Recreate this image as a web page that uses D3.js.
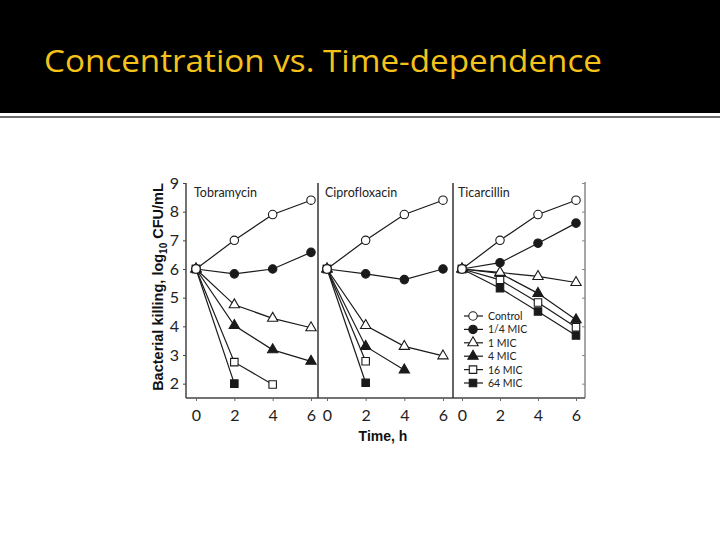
<!DOCTYPE html>
<html><head><meta charset="utf-8">
<script src="https://cdn.jsdelivr.net/npm/d3@7"></script>
<style>html,body{margin:0;padding:0;background:#fff;}svg{display:block;}text{font-variant-ligatures:none;font-feature-settings:"liga" 0, "clig" 0;}</style>
</head><body>
<svg id="c" width="720" height="540"></svg>
<script>
const title = "Concentration vs. Time-dependence";
const drugs = ["Tobramycin", "Ciprofloxacin", "Ticarcillin"];
const seriesNames = ["Control", "1/4 MIC", "1 MIC", "4 MIC", "16 MIC", "64 MIC"];
const times = [0, 2, 4, 6];
const yTicks = [2, 3, 4, 5, 6, 7, 8, 9];
const xTicks = [0, 2, 4, 6];
// values per drug, per series (null = no point)
const tobramycin = [
  [6, 7.0, 7.9, 8.4],
  [6, 5.83, 6.0, 6.58],
  [6, 4.75, 4.28, 3.95],
  [6, 4.03, 3.18, 2.78],
  [6, 2.75, 1.97, null],
  [6, 2.0, null, null]
];
const ciprofloxacin = [
  [6, 7.0, 7.9, 8.4],
  [6, 5.83, 5.63, 6.0],
  [6, 4.03, 3.3, 2.97],
  [6, 3.3, 2.48, null],
  [6, 2.78, null, null],
  [6, 2.03, null, null]
];
const ticarcillin = [
  [6, 7.0, 7.9, 8.4],
  [6, 6.22, 6.9, 7.6],
  [6, 5.88, 5.74, 5.53],
  [6, 5.85, 5.15, 4.23],
  [6, 5.62, 4.83, 3.97],
  [6, 5.33, 4.52, 3.68]
];
const panelData = [tobramycin, ciprofloxacin, ticarcillin];

const svg = d3.select("#c");
// header
svg.append("rect").attr("x",0).attr("y",0).attr("width",720).attr("height",113).attr("fill","#000");
svg.append("line").attr("x1",0).attr("x2",720).attr("y1",117).attr("y2",117).attr("stroke","#6e6e6e").attr("stroke-width",2);
svg.append("text").attr("x",44).attr("y",72).attr("fill","#F5C21B")
  .attr("font-family","'Open Sans', Lato, sans-serif").attr("font-size",31)
  .attr("style","font-variant-ligatures:none;font-feature-settings:'liga' 0")
  .attr("textLength",558).attr("lengthAdjust","spacingAndGlyphs").text(title);

const y = d3.scaleLinear().domain([1.5, 9]).range([398, 183]);
const panelRanges = [[196, 311], [327, 443], [462, 576]];
const ink = "#1a1a1a";
const axisCol = "#444";
const tickFont = "Lato, 'Open Sans', sans-serif";

// frame: left axis, bottom axis, dividers, right axis
const g = svg.append("g");
const leftAxis = d3.axisLeft(y).tickValues(yTicks).tickSize(3).tickPadding(4).tickFormat(d3.format("d"));
const la = g.append("g").attr("transform","translate(186,0)").call(leftAxis);
la.select(".domain").attr("stroke",axisCol).attr("stroke-width",1.5).attr("d","M0,398V183");
la.selectAll(".tick line").attr("stroke",axisCol);
la.selectAll(".tick text").attr("font-family",tickFont).attr("font-size",16).attr("fill","#222");

const rightAxis = d3.axisLeft(y).tickValues(yTicks).tickSize(3).tickFormat("");
const ra = g.append("g").attr("transform","translate(585,0)").call(rightAxis);
ra.select(".domain").attr("stroke","#888").attr("stroke-width",1.5).attr("d","M0,398V182");
ra.selectAll(".tick line").attr("stroke","#888");

g.append("line").attr("x1",186).attr("x2",585).attr("y1",398).attr("y2",398).attr("stroke",axisCol).attr("stroke-width",1.5);
[318, 453].forEach(xd => {
  g.append("line").attr("x1",xd).attr("x2",xd).attr("y1",183).attr("y2",398).attr("stroke","#333").attr("stroke-width",1.5);
});

// symbols
const circleSym = d3.symbol().type(d3.symbolCircle).size(56);
const triSym = d3.symbol().type(d3.symbolTriangle).size(46);
const sqSym = d3.symbol().type(d3.symbolSquare).size(56);
const markerDefs = [
  {sym: circleSym, fill: "#fff"},
  {sym: circleSym, fill: ink},
  {sym: triSym, fill: "#fff"},
  {sym: triSym, fill: ink},
  {sym: sqSym, fill: "#fff"},
  {sym: sqSym, fill: ink}
];

panelData.forEach((series, pi) => {
  const x = d3.scaleLinear().domain([0, 6]).range(panelRanges[pi]);
  const xa = d3.axisBottom(x).tickValues(xTicks).tickSize(3).tickPadding(9).tickFormat(d3.format("d"));
  const xg = svg.append("g").attr("transform","translate(0,398)").call(xa);
  xg.select(".domain").remove();
  xg.selectAll(".tick line").attr("stroke","#666");
  xg.selectAll(".tick text").attr("font-family",tickFont).attr("font-size",16).attr("fill","#222");

  svg.append("text").attr("x", panelRanges[pi][0] - 2 + (pi===2? -2:0)).attr("y", 197)
    .attr("font-family",tickFont).attr("font-size",12.5).attr("fill","#222").text(drugs[pi]);

  const line = d3.line().defined(d => d.v !== null).x(d => x(d.t)).y(d => y(d.v));
  series.forEach((vals, si) => {
    const pts = times.map((t, i) => ({t, v: vals[i]}));
    svg.append("path").datum(pts).attr("d", line).attr("fill","none").attr("stroke",ink).attr("stroke-width",1.2);
  });
  series.slice().reverse().forEach((vals, ri) => {
    const si = series.length - 1 - ri;
    const pts = times.map((t, i) => ({t, v: vals[i]})).filter(d => d.v !== null);
    svg.selectAll(null).data(pts).enter().append("path")
      .attr("transform", d => `translate(${x(d.t)},${y(d.v)})`)
      .attr("d", markerDefs[si].sym())
      .attr("fill", markerDefs[si].fill).attr("stroke", ink).attr("stroke-width",1.1);
  });
});

// legend
const legY0 = 316, legStep = 13.4;
seriesNames.forEach((name, si) => {
  const ly = legY0 + si * legStep;
  svg.append("line").attr("x1",464).attr("x2",483).attr("y1",ly).attr("y2",ly).attr("stroke",ink).attr("stroke-width",1.2);
  svg.append("path").attr("transform",`translate(473,${ly})`).attr("d", markerDefs[si].sym())
    .attr("fill", markerDefs[si].fill).attr("stroke", ink).attr("stroke-width",1.1);
  svg.append("text").attr("x",488).attr("y",ly+4).attr("font-family",tickFont).attr("font-size",10.5).attr("fill","#222").text(name);
});

// axis titles
const yt = svg.append("text").attr("transform","translate(163,287) rotate(-90)").attr("text-anchor","middle")
  .attr("font-family","'Liberation Sans', Arial, sans-serif").attr("font-weight","bold").attr("font-size",14.5).attr("fill","#111");
yt.append("tspan").text("Bacterial killing, log");
yt.append("tspan").attr("font-size",10).attr("dy",4).text("10");
yt.append("tspan").attr("dy",-4).text(" CFU/mL");

svg.append("text").attr("x",383).attr("y",441).attr("text-anchor","middle")
  .attr("font-family","'Liberation Sans', Arial, sans-serif").attr("font-weight","bold").attr("font-size",14).attr("fill","#111").text("Time, h");
</script>
</body></html>
